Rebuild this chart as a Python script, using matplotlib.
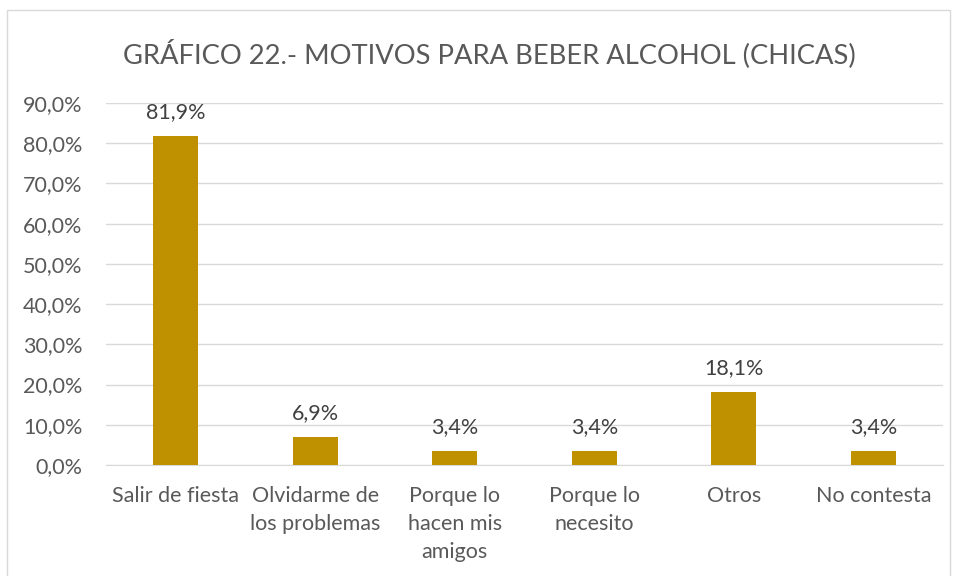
import matplotlib.pyplot as plt
from matplotlib.patches import Rectangle

categories = ["Salir de fiesta", "Olvidarme de\nlos problemas", "Porque lo\nhacen mis\namigos",
              "Porque lo\nnecesito", "Otros", "No contesta"]
values = [81.9, 6.9, 3.4, 3.4, 18.1, 3.4]
yticks = [0, 10, 20, 30, 40, 50, 60, 70, 80, 90]

plt.rcParams['font.family'] = ['Lato', 'DejaVu Sans']
text_col = '#595959'

fig = plt.figure(figsize=(9.58, 5.76), dpi=100)
fig.add_artist(Rectangle((7 / 958, -0.05), (950 - 7) / 958, 1.05 - 10 / 576,
                         transform=fig.transFigure, fill=False, edgecolor='#D9D9D9', lw=1))
ax = fig.add_axes([106 / 958, 1 - 465 / 576, (943 - 106) / 958, (465 - 103) / 576])

x = range(len(values))
bars = ax.bar(x, values, width=0.32, color='#BF9000', zorder=3)
for b, v in zip(bars, values):
    ax.annotate(f"{v:.1f}%".replace('.', ','), (b.get_x() + b.get_width() / 2, v),
                xytext=(0, 10), textcoords='offset points', ha='center', va='bottom',
                fontsize=15.5, color='#404040')

ax.set_xlim(-0.5, len(values) - 0.5)
ax.set_ylim(0, 90)
ax.set_yticks(yticks)
ax.set_yticklabels([f"{t:.1f}%".replace('.', ',') for t in yticks])
ax.set_xticks(list(x))
ax.set_xticklabels(categories, linespacing=1.5, va='top', fontsize=16)
ax.tick_params(axis='both', length=0, labelsize=15.5, labelcolor=text_col)
ax.tick_params(axis='x', pad=15)
ax.tick_params(axis='y', pad=17)
ax.grid(axis='y', color='#D9D9D9', lw=1, zorder=0)
for s in ['top', 'right', 'left']:
    ax.spines[s].set_visible(False)
ax.spines['bottom'].set_color('#D9D9D9')

fig.text(489 / 958, 1 - 54 / 576, "GRÁFICO 22.- MOTIVOS PARA BEBER ALCOHOL (CHICAS)",
         ha='center', va='center', fontsize=19.7, color=text_col)

fig.savefig('out.png', dpi=100)
